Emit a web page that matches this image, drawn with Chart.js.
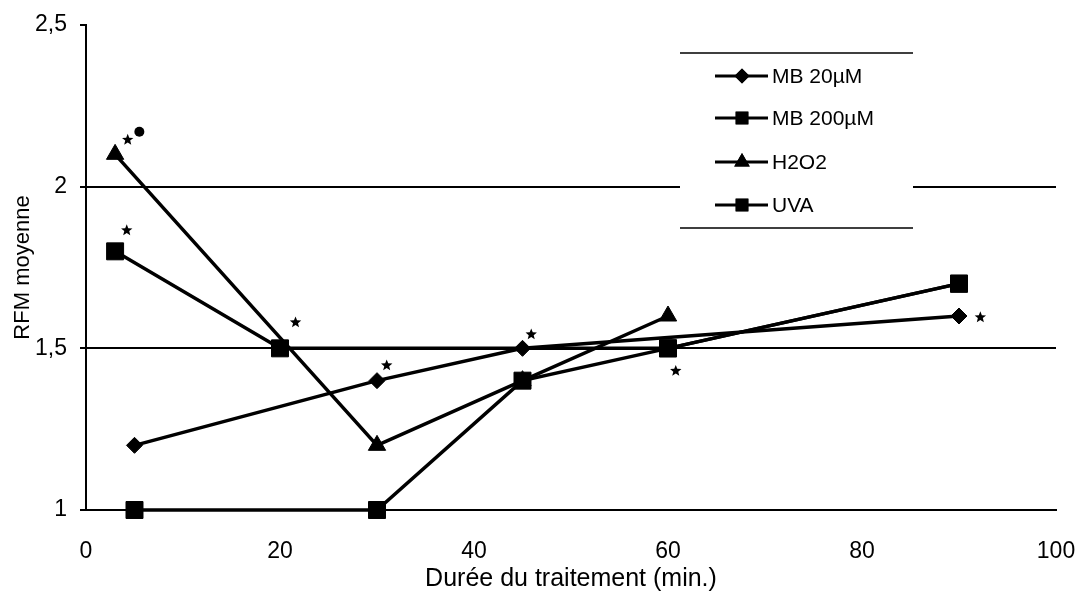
<!DOCTYPE html>
<html>
<head>
<meta charset="utf-8">
<script src="https://cdn.jsdelivr.net/npm/chart.js@4.4.1/dist/chart.umd.min.js"></script>
<style>
  html, body { margin: 0; padding: 0; background: #fff; }
  #wrap { width: 1080px; height: 594px; }
</style>
</head>
<body>
<div id="wrap"><canvas id="rfmChart" width="1080" height="594"></canvas></div>
<script>
// Series (x = minutes, y = RFM moyenne)
const mb20X = [5, 30, 45, 90];
const mb20Y = [1.2, 1.4, 1.5, 1.6];
const mb200X = [3, 20, 60, 90];
const mb200Y = [1.8, 1.5, 1.5, 1.7];
const h2o2X = [3, 30, 45, 60];
const h2o2Y = [2.1, 1.2, 1.4, 1.6];
const uvaX = [5, 30, 45, 60, 90];
const uvaY = [1.0, 1.0, 1.4, 1.5, 1.7];

const seriesNames = ['MB 20µM', 'MB 200µM', 'H2O2', 'UVA'];

const xTicks = [0, 20, 40, 60, 80, 100];
const yTicks = [1, 1.5, 2, 2.5];
const yTickLabels = ['1', '1,5', '2', '2,5'];

// significance marks (asterisks) and the single dot
const starX = [4.3, 4.2, 21.6, 31.0, 45.9, 60.8, 92.2];
const starY = [2.145, 1.865, 1.58, 1.447, 1.543, 1.43, 1.596];
const dotX = [5.5];
const dotY = [2.17];

const FONT = '"Liberation Sans", Arial, sans-serif';

const toPoints = (xs, ys) => xs.map((x, i) => ({ x: x, y: ys[i] }));

const baseSet = {
    borderColor: '#000',
    backgroundColor: '#000',
    pointBackgroundColor: '#000',
    pointBorderColor: '#000',
    borderWidth: 3.5,
    pointBorderWidth: 1,
    tension: 0,
    clip: false
};

const datasets = [
    Object.assign({}, baseSet, { label: seriesNames[0], data: toPoints(mb20X, mb20Y), pointStyle: 'rectRot', pointRadius: 8 }),
    Object.assign({}, baseSet, { label: seriesNames[1], data: toPoints(mb200X, mb200Y), pointStyle: 'rect', pointRadius: 12 }),
    Object.assign({}, baseSet, { label: seriesNames[2], data: toPoints(h2o2X, h2o2Y), pointStyle: 'triangle', pointRadius: 10 }),
    Object.assign({}, baseSet, { label: seriesNames[3], data: toPoints(uvaX, uvaY), pointStyle: 'rect', pointRadius: 12 })
];

function drawStar(ctx, cx, cy, outer, inner) {
    ctx.beginPath();
    for (let i = 0; i < 10; i++) {
        const r = i % 2 === 0 ? outer : inner;
        const a = -Math.PI / 2 + i * Math.PI / 5;
        const px = cx + Math.cos(a) * r;
        const py = cy + Math.sin(a) * r;
        if (i === 0) ctx.moveTo(px, py); else ctx.lineTo(px, py);
    }
    ctx.closePath();
    ctx.fill();
}

// stars, dot and the boxed legend
const extrasPlugin = {
    id: 'extras',
    afterDatasetsDraw(chart) {
        const ctx = chart.ctx;
        const xs = chart.scales.x;
        const ys = chart.scales.y;
        ctx.save();
        ctx.fillStyle = '#000';
        starX.forEach((x, i) => drawStar(ctx, xs.getPixelForValue(x), ys.getPixelForValue(starY[i]), 6, 2.6));
        dotX.forEach((x, i) => {
            ctx.beginPath();
            ctx.arc(xs.getPixelForValue(x), ys.getPixelForValue(dotY[i]), 5, 0, Math.PI * 2);
            ctx.fill();
        });

        // legend box
        const left = 680, right = 913, top = 53, bottom = 228;
        ctx.fillStyle = '#fff';
        ctx.fillRect(left, top, right - left, bottom - top);
        ctx.strokeStyle = '#000';
        ctx.lineWidth = 1.5;
        ctx.beginPath();
        ctx.moveTo(left, top); ctx.lineTo(right, top);
        ctx.moveTo(left, bottom); ctx.lineTo(right, bottom);
        ctx.stroke();

        const rows = [76, 118, 162, 205];
        ctx.font = '21px ' + FONT;
        ctx.textBaseline = 'middle';
        ctx.textAlign = 'left';
        chart.data.datasets.forEach((ds, i) => {
            const y = rows[i];
            ctx.strokeStyle = '#000';
            ctx.lineWidth = 3;
            ctx.beginPath();
            ctx.moveTo(715, y); ctx.lineTo(768, y);
            ctx.stroke();
            ctx.fillStyle = '#000';
            Chart.helpers.drawPoint(ctx, { pointStyle: ds.pointStyle, radius: ds.pointStyle === 'rectRot' ? 7.5 : 9, borderWidth: 0, rotation: 0 }, 742, y);
            ctx.fill();
            ctx.fillText(ds.label, 772, y + 1);
        });
        ctx.restore();
    }
};

const ctx = document.getElementById('rfmChart').getContext('2d');
new Chart(ctx, {
    type: 'line',
    data: { datasets: datasets },
    plugins: [extrasPlugin],
    options: {
        responsive: false,
        animation: false,
        layout: { padding: { left: 0, right: 24, top: 25, bottom: 0 } },
        plugins: {
            legend: { display: false },
            tooltip: { enabled: false }
        },
        scales: {
            x: {
                type: 'linear',
                min: 0,
                max: 100,
                afterBuildTicks: (scale) => { scale.ticks = xTicks.map(v => ({ value: v })); },
                afterFit: (scale) => {
                    scale.height = 84;
                    scale.paddingLeft = 0;
                    scale.paddingRight = 0;
                },
                grid: { display: false },
                border: { display: true, color: '#000', width: 2 },
                ticks: {
                    color: '#000',
                    font: { family: FONT, size: 23 },
                    padding: 20,
                    maxRotation: 0
                },
                title: {
                    display: true,
                    text: 'Durée du traitement (min.)',
                    color: '#000',
                    font: { family: FONT, size: 25 },
                    padding: { top: 0, bottom: 0 }
                }
            },
            y: {
                type: 'linear',
                min: 1,
                max: 2.5,
                afterBuildTicks: (scale) => { scale.ticks = yTicks.map(v => ({ value: v })); },
                afterFit: (scale) => {
                    scale.width = 86;
                    scale.paddingTop = 0;
                    scale.paddingBottom = 0;
                },
                grid: {
                    color: (c) => (c.tick && c.tick.value === 2.5) ? 'rgba(0,0,0,0)' : '#000',
                    tickColor: '#000',
                    lineWidth: 2,
                    tickLength: 6
                },
                border: { display: true, color: '#000', width: 2 },
                ticks: {
                    color: '#000',
                    font: { family: FONT, size: 23 },
                    padding: 13,
                    callback: (value) => {
                        const i = yTicks.indexOf(value);
                        return i >= 0 ? yTickLabels[i] : '';
                    }
                },
                title: {
                    display: true,
                    text: 'RFM moyenne',
                    color: '#000',
                    font: { family: FONT, size: 22 },
                    padding: { top: 10, bottom: 0 }
                }
            }
        }
    }
});
</script>
</body>
</html>
